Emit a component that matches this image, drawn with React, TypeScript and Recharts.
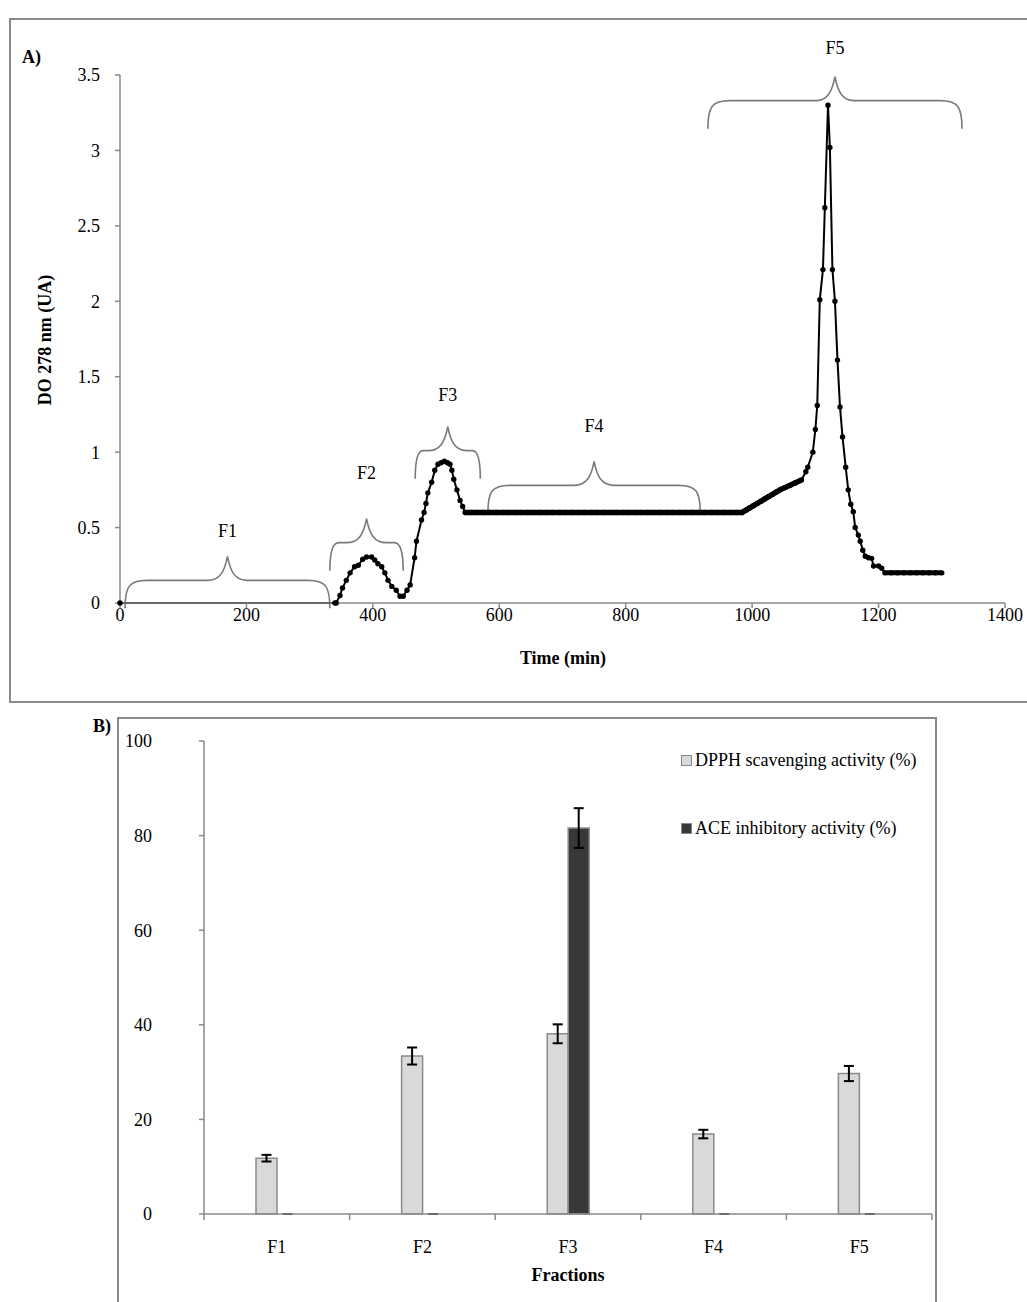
import React from 'react';
import {
  LineChart, Line, XAxis, YAxis, ReferenceArea, BarChart, Bar, ErrorBar, Legend,
} from 'recharts';

// --- A) elution profile ---
const timeMin = [
  0, 340, 342, 348, 352, 358, 364, 371, 377, 384, 390, 398, 403, 408, 414, 419, 424, 430, 437, 443,
  448, 454, 459, 466, 469, 477, 481, 484, 487, 493, 498, 503, 508, 513, 518, 522, 525, 528, 533, 538,
  542, 546, 555, 565, 575, 585, 595, 605, 615, 625, 635, 645, 655, 665, 675, 685, 695, 705, 715, 725,
  735, 745, 755, 765, 775, 785, 795, 805, 815, 825, 835, 845, 855, 865, 875, 885, 895, 905, 915, 925,
  935, 945, 955, 965, 975, 984, 990, 996, 1002, 1008, 1014, 1020, 1026, 1032, 1038, 1044, 1052, 1060, 1068, 1078,
  1085, 1088, 1096, 1100, 1103, 1107, 1112, 1115, 1120, 1123, 1127, 1131, 1135, 1139, 1143, 1148, 1152, 1156, 1160, 1163,
  1168, 1171, 1175, 1179, 1184, 1189, 1192, 1200, 1205, 1210, 1220, 1230, 1240, 1250, 1260, 1270, 1280, 1290, 1300,
];
const od278 = [
  0, 0, 0, 0.05, 0.1, 0.15, 0.2, 0.24, 0.25, 0.29, 0.305, 0.305, 0.285, 0.26, 0.24, 0.2, 0.15, 0.11, 0.085, 0.045,
  0.045, 0.085, 0.12, 0.3, 0.41, 0.55, 0.6, 0.66, 0.73, 0.8, 0.88, 0.92, 0.93, 0.94, 0.93, 0.92, 0.88, 0.82, 0.75, 0.68,
  0.64, 0.6, 0.6, 0.6, 0.6, 0.6, 0.6, 0.6, 0.6, 0.6, 0.6, 0.6, 0.6, 0.6, 0.6, 0.6, 0.6, 0.6, 0.6, 0.6,
  0.6, 0.6, 0.6, 0.6, 0.6, 0.6, 0.6, 0.6, 0.6, 0.6, 0.6, 0.6, 0.6, 0.6, 0.6, 0.6, 0.6, 0.6, 0.6, 0.6,
  0.6, 0.6, 0.6, 0.6, 0.6, 0.6, 0.615, 0.63, 0.645, 0.66, 0.675, 0.69, 0.705, 0.72, 0.735, 0.75, 0.765, 0.78, 0.795, 0.815,
  0.87, 0.9, 1.0, 1.15, 1.31, 2.01, 2.21, 2.62, 3.3, 3.02, 2.21, 2.0, 1.61, 1.3, 1.1, 0.9, 0.75, 0.655, 0.605, 0.5,
  0.45, 0.41, 0.35, 0.31, 0.3, 0.296, 0.245, 0.245, 0.23, 0.2, 0.2, 0.2, 0.2, 0.2, 0.2, 0.2, 0.2, 0.2, 0.2,
];
// stretches where the samples are so close that the markers merge into a thick band
const denseTime = [546, 984, 1044, 1078];
const denseOd = [0.6, 0.6, 0.75, 0.815];
const tailTime = [1210, 1300];
const tailOd = [0.2, 0.2];

const xTicksA = [0, 200, 400, 600, 800, 1000, 1200, 1400];
const yTicksA = [0, 0.5, 1, 1.5, 2, 2.5, 3, 3.5];

// fraction braces: time range, brace level and label level (data units)
const braceNames = ['F1', 'F2', 'F3', 'F4', 'F5'];
const braceStart = [8, 332, 467, 582, 930];
const braceEnd = [332, 448, 570, 918, 1332];
const braceLevel = [0.15, 0.4, 1.01, 0.78, 3.33];
const braceLabel = [0.48, 0.86, 1.38, 1.17, 3.68];

// --- B) activities ---
const fractions = ['F1', 'F2', 'F3', 'F4', 'F5'];
const seriesNames = ['DPPH scavenging activity (%)', 'ACE inhibitory activity (%)'];
const dpph = [11.8, 33.4, 38.1, 16.9, 29.7];
const dpphErr = [0.7, 1.8, 2.0, 0.9, 1.6];
const ace = [0, 0, 81.6, 0, 0];
const aceErr = [0, 0, 4.2, 0, 0];
const yTicksB = [0, 20, 40, 60, 80, 100];

const profile = timeMin.map((t, i) => ({ time: t, od: od278[i] }));
const dense = denseTime.map((t, i) => ({ time: t, od: denseOd[i] }));
const tail = tailTime.map((t, i) => ({ time: t, od: tailOd[i] }));
const activity = fractions.map((f, i) => ({
  name: f, dpph: dpph[i], dpphErr: dpphErr[i], ace: ace[i], aceErr: aceErr[i],
}));

const FONT = '"Liberation Serif", "Times New Roman", serif';
const AXIS = '#8a8a8a';
const tickStyle = { fontSize: 18, fill: '#000', fontFamily: FONT };
const CAT_MARGIN = 26;

const Brace = (props: any) => {
  const { x, y, width, height, label } = props;
  const yH = y + height;
  const mid = x + width / 2;
  const d = 28;
  const tip = 24;
  const r = Math.min(22, width * 0.12);
  const path = [
    `M${x},${yH + d}`,
    `C${x},${yH + 6} ${x + 4},${yH} ${x + r},${yH}`,
    `L${mid - 20},${yH}`,
    `C${mid - 8},${yH} ${mid - 3},${yH - 8} ${mid},${yH - tip}`,
    `C${mid + 3},${yH - 8} ${mid + 8},${yH} ${mid + 20},${yH}`,
    `L${x + width - r},${yH}`,
    `C${x + width - 4},${yH} ${x + width},${yH + 6} ${x + width},${yH + d}`,
  ].join(' ');
  return (
    <g>
      <path d={path} fill="none" stroke="#7a7a7a" strokeWidth={1.6} />
      <text x={mid} y={y} textAnchor="middle" dominantBaseline="central" fontSize={18} fontFamily={FONT} fill="#000">
        {label}
      </text>
    </g>
  );
};

// category label plus Excel-style tick marks on the category boundaries
const CategoryTick = (props: any) => {
  const { x, y, payload, width, visibleTicksCount, index } = props;
  const band = payload && payload.offset ? payload.offset * 2 : width / visibleTicksCount;
  const axisY = y - CAT_MARGIN;
  const last = index === visibleTicksCount - 1;
  return (
    <g>
      <line x1={x - band / 2} x2={x - band / 2} y1={axisY} y2={axisY + 6} stroke={AXIS} strokeWidth={1.5} />
      {last && <line x1={x + band / 2} x2={x + band / 2} y1={axisY} y2={axisY + 6} stroke={AXIS} strokeWidth={1.5} />}
      <text x={x} y={y} dy="0.71em" textAnchor="middle" fontSize={18} fontFamily={FONT} fill="#000">
        {payload.value}
      </text>
    </g>
  );
};

const LegendBox = ({ payload }: any) => {
  const items = [...(payload || [])].sort(
    (a: any, b: any) => seriesNames.indexOf(a.value) - seriesNames.indexOf(b.value),
  );
  return (
    <div style={{ fontFamily: FONT, fontSize: 18, color: '#000' }}>
      {items.map((p: any, i: number) => (
        <div key={i} style={{ display: 'flex', alignItems: 'center', height: 26, marginBottom: i === 0 ? 42 : 0 }}>
          <span style={{
            display: 'inline-block', width: 9, height: 9, background: p.color,
            border: '1px solid #888', marginRight: 3,
          }} />
          <span>{p.value}</span>
        </div>
      ))}
    </div>
  );
};

// zero-height bars: Excel still draws their (zero) error bar as a short dash
const ZeroDash = (props: any) => {
  const { x, y, width, height, payload } = props;
  if (payload && payload.ace === 0) {
    const cx = x + width / 2;
    return <line x1={cx - 5} x2={cx + 5} y1={y + height} y2={y + height} stroke="#000" strokeWidth={1.8} />;
  }
  return <rect x={x} y={y} width={width} height={height} fill="#383838" stroke="#8a8a8a" strokeWidth={1.5} />;
};

export default function App() {
  return (
    <div style={{ position: 'absolute', left: 0, top: 0, width: 1027, height: 1302, fontFamily: FONT, background: '#fff' }}>
      {/* panel A frame */}
      <div style={{ position: 'absolute', left: 9, top: 18, width: 1030, height: 685, border: '2px solid #8a8a8a', boxSizing: 'border-box' }} />
      <div style={{ position: 'absolute', left: 22, top: 47, fontWeight: 'bold', fontSize: 18 }}>A)</div>
      <div style={{ position: 'absolute', left: 0, top: 0 }}>
        <LineChart width={1027} height={703} data={profile} margin={{ top: 75, right: 22, left: 0, bottom: 70 }}>
          <XAxis
            type="number" dataKey="time" domain={[0, 1400]} ticks={xTicksA} height={30}
            stroke={AXIS} strokeWidth={1.5} tickSize={5} tickMargin={0} tick={tickStyle}
          />
          <YAxis
            type="number" domain={[0, 3.5]} ticks={yTicksA} width={120}
            stroke={AXIS} strokeWidth={1.5} tickSize={5} tickMargin={15} tick={tickStyle}
          />
          {braceNames.map((n, i) => (
            <ReferenceArea
              key={n} x1={braceStart[i]} x2={braceEnd[i]} y1={braceLevel[i]} y2={braceLabel[i]}
              ifOverflow="visible" shape={(p: any) => <Brace {...p} label={n} />}
            />
          ))}
          <Line
            data={dense} type="linear" dataKey="od" stroke="#000" strokeWidth={5.5}
            dot={false} activeDot={false} isAnimationActive={false}
          />
          <Line
            data={tail} type="linear" dataKey="od" stroke="#000" strokeWidth={5}
            dot={false} activeDot={false} isAnimationActive={false}
          />
          <Line
            type="linear" dataKey="od" stroke="#000" strokeWidth={2}
            dot={{ r: 2.7, fill: '#000', stroke: '#000', strokeWidth: 0 }}
            activeDot={false} isAnimationActive={false}
          />
        </LineChart>
      </div>
      <div style={{ position: 'absolute', left: 563, top: 658, transform: 'translate(-50%, -50%)', fontWeight: 'bold', fontSize: 18, whiteSpace: 'nowrap' }}>
        Time (min)
      </div>
      <div style={{ position: 'absolute', left: 45, top: 340, transform: 'translate(-50%, -50%) rotate(-90deg)', fontWeight: 'bold', fontSize: 18, whiteSpace: 'nowrap' }}>
        DO 278 nm (UA)
      </div>

      {/* panel B */}
      <div style={{ position: 'absolute', left: 117, top: 717, width: 820, height: 600, border: '2px solid #8a8a8a', boxSizing: 'border-box' }} />
      <div style={{ position: 'absolute', left: 93, top: 716, fontWeight: 'bold', fontSize: 18 }}>B)</div>
      <div style={{ position: 'absolute', left: 115, top: 717 }}>
        <BarChart
          width={820} height={585} data={activity} barGap={0} barSize={21}
          margin={{ top: 24, right: 3, left: 0, bottom: 58 }}
        >
          <XAxis
            dataKey="name" height={30} stroke={AXIS} strokeWidth={1.5}
            tickLine={false} tickSize={0} tickMargin={CAT_MARGIN} interval={0}
            tick={<CategoryTick />}
          />
          <YAxis
            type="number" domain={[0, 100]} ticks={yTicksB} width={89}
            stroke={AXIS} strokeWidth={1.5} tickSize={5} tickMargin={47} tick={tickStyle}
          />
          <Legend
            layout="vertical" align="center" verticalAlign="middle"
            content={<LegendBox />}
            wrapperStyle={{ position: 'absolute', left: 566, top: 30, width: 260, height: 100 }}
          />
          <Bar dataKey="dpph" name={seriesNames[0]} fill="#d9d9d9" stroke="#8a8a8a" strokeWidth={1.5} isAnimationActive={false}>
            <ErrorBar dataKey="dpphErr" width={5} stroke="#000" strokeWidth={2} direction="y" />
          </Bar>
          <Bar
            dataKey="ace" name={seriesNames[1]} fill="#383838" stroke="#8a8a8a" strokeWidth={1.5}
            minPointSize={0} shape={(p: any) => <ZeroDash {...p} />} isAnimationActive={false}
          >
            <ErrorBar dataKey="aceErr" width={5} stroke="#000" strokeWidth={2} direction="y" />
          </Bar>
        </BarChart>
      </div>
      <div style={{ position: 'absolute', left: 568, top: 1275, transform: 'translate(-50%, -50%)', fontWeight: 'bold', fontSize: 18 }}>
        Fractions
      </div>
    </div>
  );
}
